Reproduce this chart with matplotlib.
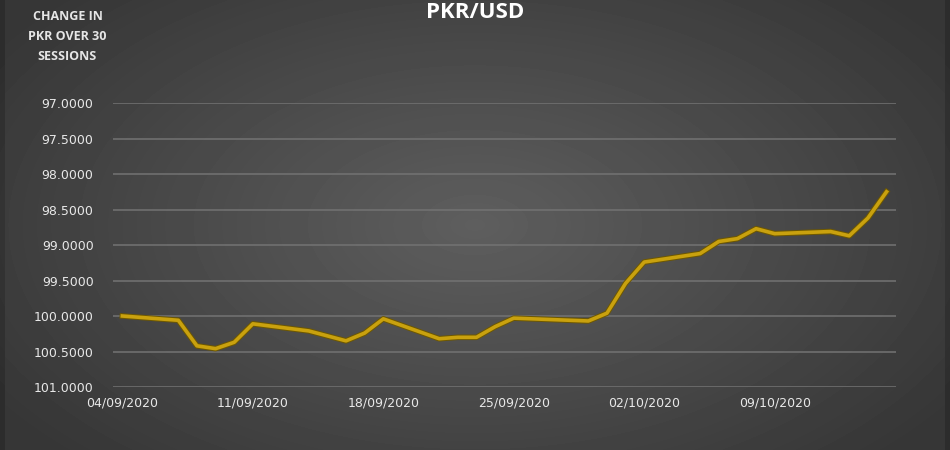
import numpy as np
import pandas as pd
import matplotlib
matplotlib.use("Agg")
import matplotlib.pyplot as plt
import matplotlib.dates as mdates

# 30 trading sessions, PKR per USD
dates = ["04/09/2020", "07/09/2020", "08/09/2020", "09/09/2020", "10/09/2020",
         "11/09/2020", "14/09/2020", "15/09/2020", "16/09/2020", "17/09/2020",
         "18/09/2020", "21/09/2020", "22/09/2020", "23/09/2020", "24/09/2020",
         "25/09/2020", "28/09/2020", "29/09/2020", "30/09/2020", "01/10/2020",
         "02/10/2020", "05/10/2020", "06/10/2020", "07/10/2020", "08/10/2020",
         "09/10/2020", "12/10/2020", "13/10/2020", "14/10/2020", "15/10/2020"]
rates = [100.00, 100.06, 100.42, 100.46, 100.37,
         100.11, 100.21, 100.28, 100.35, 100.24,
         100.04, 100.32, 100.30, 100.30, 100.15,
         100.03, 100.06, 100.07, 99.96, 99.54,
         99.24, 99.12, 98.95, 98.91, 98.77,
         98.84, 98.81, 98.87, 98.62, 98.25]
y_ticks = [97.0, 97.5, 98.0, 98.5, 99.0, 99.5, 100.0, 100.5, 101.0]

x = pd.to_datetime(dates, format="%d/%m/%Y")

fig = plt.figure(figsize=(9.5, 4.5), dpi=100)

# soft radial grey background, slightly darker thin strips at the sides
bg = fig.add_axes([0, 0, 1, 1], zorder=-10)
gx, gy = np.meshgrid(np.linspace(-1, 1, 950), np.linspace(-1, 1, 450))
r = np.sqrt(gx ** 2 + (gy / 1.2) ** 2)
shade = 0.37 - 0.13 * np.clip(r, 0, 1.2)
edge = np.abs(gx) > 0.99
shade[edge] -= 0.04
bg.imshow(shade, cmap="gray", vmin=0, vmax=1, aspect="auto", extent=[0, 1, 0, 1])
bg.axis("off")

ax = fig.add_axes([0.119, 0.14, 0.824, 0.631])
ax.patch.set_alpha(0)
ax.plot(x, rates, color="#6e5800", linewidth=4.0, solid_joinstyle="round", zorder=3)
ax.plot(x, rates, color="#c9a10e", linewidth=2.6, solid_joinstyle="round", zorder=4)

ax.set_ylim(101, 97)
ax.set_yticks(y_ticks)
ax.yaxis.set_major_formatter(matplotlib.ticker.FormatStrFormatter("%.4f"))
ax.set_xlim(x[0] - pd.Timedelta(hours=12), x[-1] + pd.Timedelta(hours=12))
ax.set_xticks(pd.date_range(x[0], x[-1], freq="7D"))
ax.xaxis.set_major_formatter(mdates.DateFormatter("%d/%m/%Y"))

ax.grid(axis="y", color="#737373", linewidth=1.1)
ax.set_axisbelow(True)
for s in ax.spines.values():
    s.set_visible(False)
ax.tick_params(length=0, colors="#e8e8e8", labelsize=9, pad=14)
ax.tick_params(axis="x", pad=7)

fig.text(0.5, 0.995, "PKR/USD", ha="center", va="top", color="white",
         fontsize=16, fontweight="bold", family="Open Sans")
fig.text(0.071, 0.978, "CHANGE IN\nPKR OVER 30\nSESSIONS", ha="center", va="top",
         color="#e6e6e6", fontsize=9, fontweight="bold", family="Open Sans",
         linespacing=1.7)

fig.savefig("out.png", dpi=100)
